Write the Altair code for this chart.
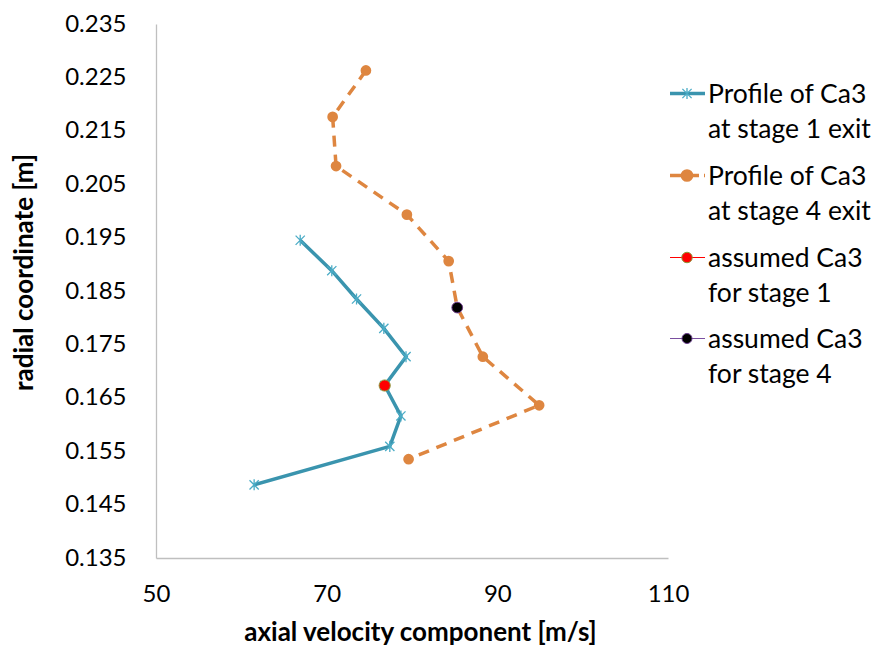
import altair as alt
import pandas as pd

# ---- data ----
vel_stage1 = [66.9, 70.6, 73.5, 76.7, 79.3, 76.8, 78.7, 77.4, 61.5]
rad_stage1 = [0.1945, 0.1888, 0.1835, 0.1780, 0.1727, 0.1673, 0.1616, 0.1559, 0.1487]
vel_stage4 = [74.6, 70.7, 71.1, 79.4, 84.3, 85.3, 88.3, 94.9, 79.6]
rad_stage4 = [0.2263, 0.2176, 0.2084, 0.1993, 0.1906, 0.1819, 0.1727, 0.1636, 0.1535]
assumed1_vel = [76.8]
assumed1_rad = [0.1673]
assumed4_vel = [85.3]
assumed4_rad = [0.1819]
x_ticks = [50, 70, 90, 110]
y_ticks = [0.135, 0.145, 0.155, 0.165, 0.175, 0.185, 0.195, 0.205, 0.215, 0.225, 0.235]
legend_labels = [
    ["Profile of Ca3", "at stage 1 exit"],
    ["Profile of Ca3", "at stage 4 exit"],
    ["assumed Ca3", "for stage 1"],
    ["assumed Ca3", "for stage 4"],
]

FONT = "Lato"
BLUE_LINE = "#3A94AE"
BLUE_MARK = "#4BACC6"
ORANGE = "#DE8640"
STAR = "M-1,-1L1,1M-1,1L1,-1M0,-1.2L0,1.2"

df1 = pd.DataFrame({"v": vel_stage1, "r": rad_stage1, "i": range(len(vel_stage1))})
df4 = pd.DataFrame({"v": vel_stage4, "r": rad_stage4, "i": range(len(vel_stage4))})
da1 = pd.DataFrame({"v": assumed1_vel, "r": assumed1_rad})
da4 = pd.DataFrame({"v": assumed4_vel, "r": assumed4_rad})

X = alt.X("v:Q",
          scale=alt.Scale(domain=[50, 110], nice=False, zero=False),
          axis=alt.Axis(values=x_ticks, format="d", labelPadding=24, labelFlush=False,
                        title="axial velocity component [m/s]",
                        titleX=264, titleY=82, titleBaseline="alphabetic"))
Y = alt.Y("r:Q",
          scale=alt.Scale(domain=[0.135, 0.235], nice=False, zero=False),
          axis=alt.Axis(values=y_ticks, format=".3f", labelPadding=30, labelFlush=False,
                        title="radial coordinate [m]",
                        titleX=-124, titleY=248, titleBaseline="alphabetic"))

line1 = alt.Chart(df1).mark_line(color=BLUE_LINE, strokeWidth=3.5).encode(
    x=X, y=Y, order="i:Q")
pts1 = alt.Chart(df1).mark_point(shape=STAR, color=BLUE_MARK, size=85,
                                 strokeWidth=1.3, filled=False, opacity=1).encode(x=X, y=Y)
line4 = alt.Chart(df4).mark_line(color=ORANGE, strokeWidth=3.5, strokeDash=[11, 8]).encode(
    x=X, y=Y, order="i:Q")
pts4 = alt.Chart(df4).mark_circle(color=ORANGE, size=115, opacity=1).encode(x=X, y=Y)
red = alt.Chart(da1).mark_point(shape="circle", filled=True, fill="#FF0000",
                                stroke="#8A9A3A", strokeWidth=1, size=125, opacity=1).encode(x=X, y=Y)
blk = alt.Chart(da4).mark_point(shape="circle", filled=True, fill="#000000",
                                stroke="#6A3D8F", strokeWidth=1, size=115, opacity=1).encode(x=X, y=Y)

# ---- manual Excel-style legend ----
dummy = alt.Data(values=[{}])
leg_layers = []
sym_y = [69.5, 151.5, 233.5, 314.5]
lx0, lx1, lxm, tx = 514, 549, 531, 552
styles = [
    dict(line=dict(color=BLUE_LINE, strokeWidth=3.5),
         pt=dict(shape=STAR, color=BLUE_MARK, size=85, strokeWidth=1.3, filled=False)),
    dict(line=dict(color=ORANGE, strokeWidth=3.5, strokeDash=[12, 5]),
         pt=dict(shape="circle", fill=ORANGE, stroke=ORANGE, filled=True, size=115)),
    dict(line=dict(color="#FF0000", strokeWidth=1),
         pt=dict(shape="circle", fill="#FF0000", stroke="#8A9A3A", strokeWidth=1, filled=True, size=110)),
    dict(line=dict(color="#7A4FA0", strokeWidth=1),
         pt=dict(shape="circle", fill="#000000", stroke="#6A3D8F", strokeWidth=1, filled=True, size=100)),
]
for k, (lab, sy, st) in enumerate(zip(legend_labels, sym_y, styles)):
    leg_layers.append(alt.Chart(dummy).mark_rule(**st["line"]).encode(
        x=alt.value(lx0), x2=alt.value(lx1), y=alt.value(sy)))
    leg_layers.append(alt.Chart(dummy).mark_point(opacity=1, **st["pt"]).encode(
        x=alt.value(lxm), y=alt.value(sy)))
    leg_layers.append(alt.Chart(dummy).mark_text(
        text=lab, align="left", baseline="alphabetic", font=FONT, fontSize=26.5,
        lineHeight=35, color="black").encode(x=alt.value(tx), y=alt.value(sy + 9.5)))

chart = alt.layer(line1, pts1, line4, pts4, red, blk, *leg_layers).properties(
    width=512, height=534,
    padding={"left": 148, "top": 16, "right": 203, "bottom": 89},
    autosize="none",
).configure_axis(
    grid=False, ticks=False, domainColor="#BFBFBF", domainWidth=1.3,
    labelFont=FONT, labelFontSize=24, labelColor="black",
    titleFont=FONT, titleFontSize=26, titleFontWeight="bold", titleColor="black",
).configure_view(stroke=None)

chart.save("out.html", embed_options={"renderer": "svg", "actions": False})
